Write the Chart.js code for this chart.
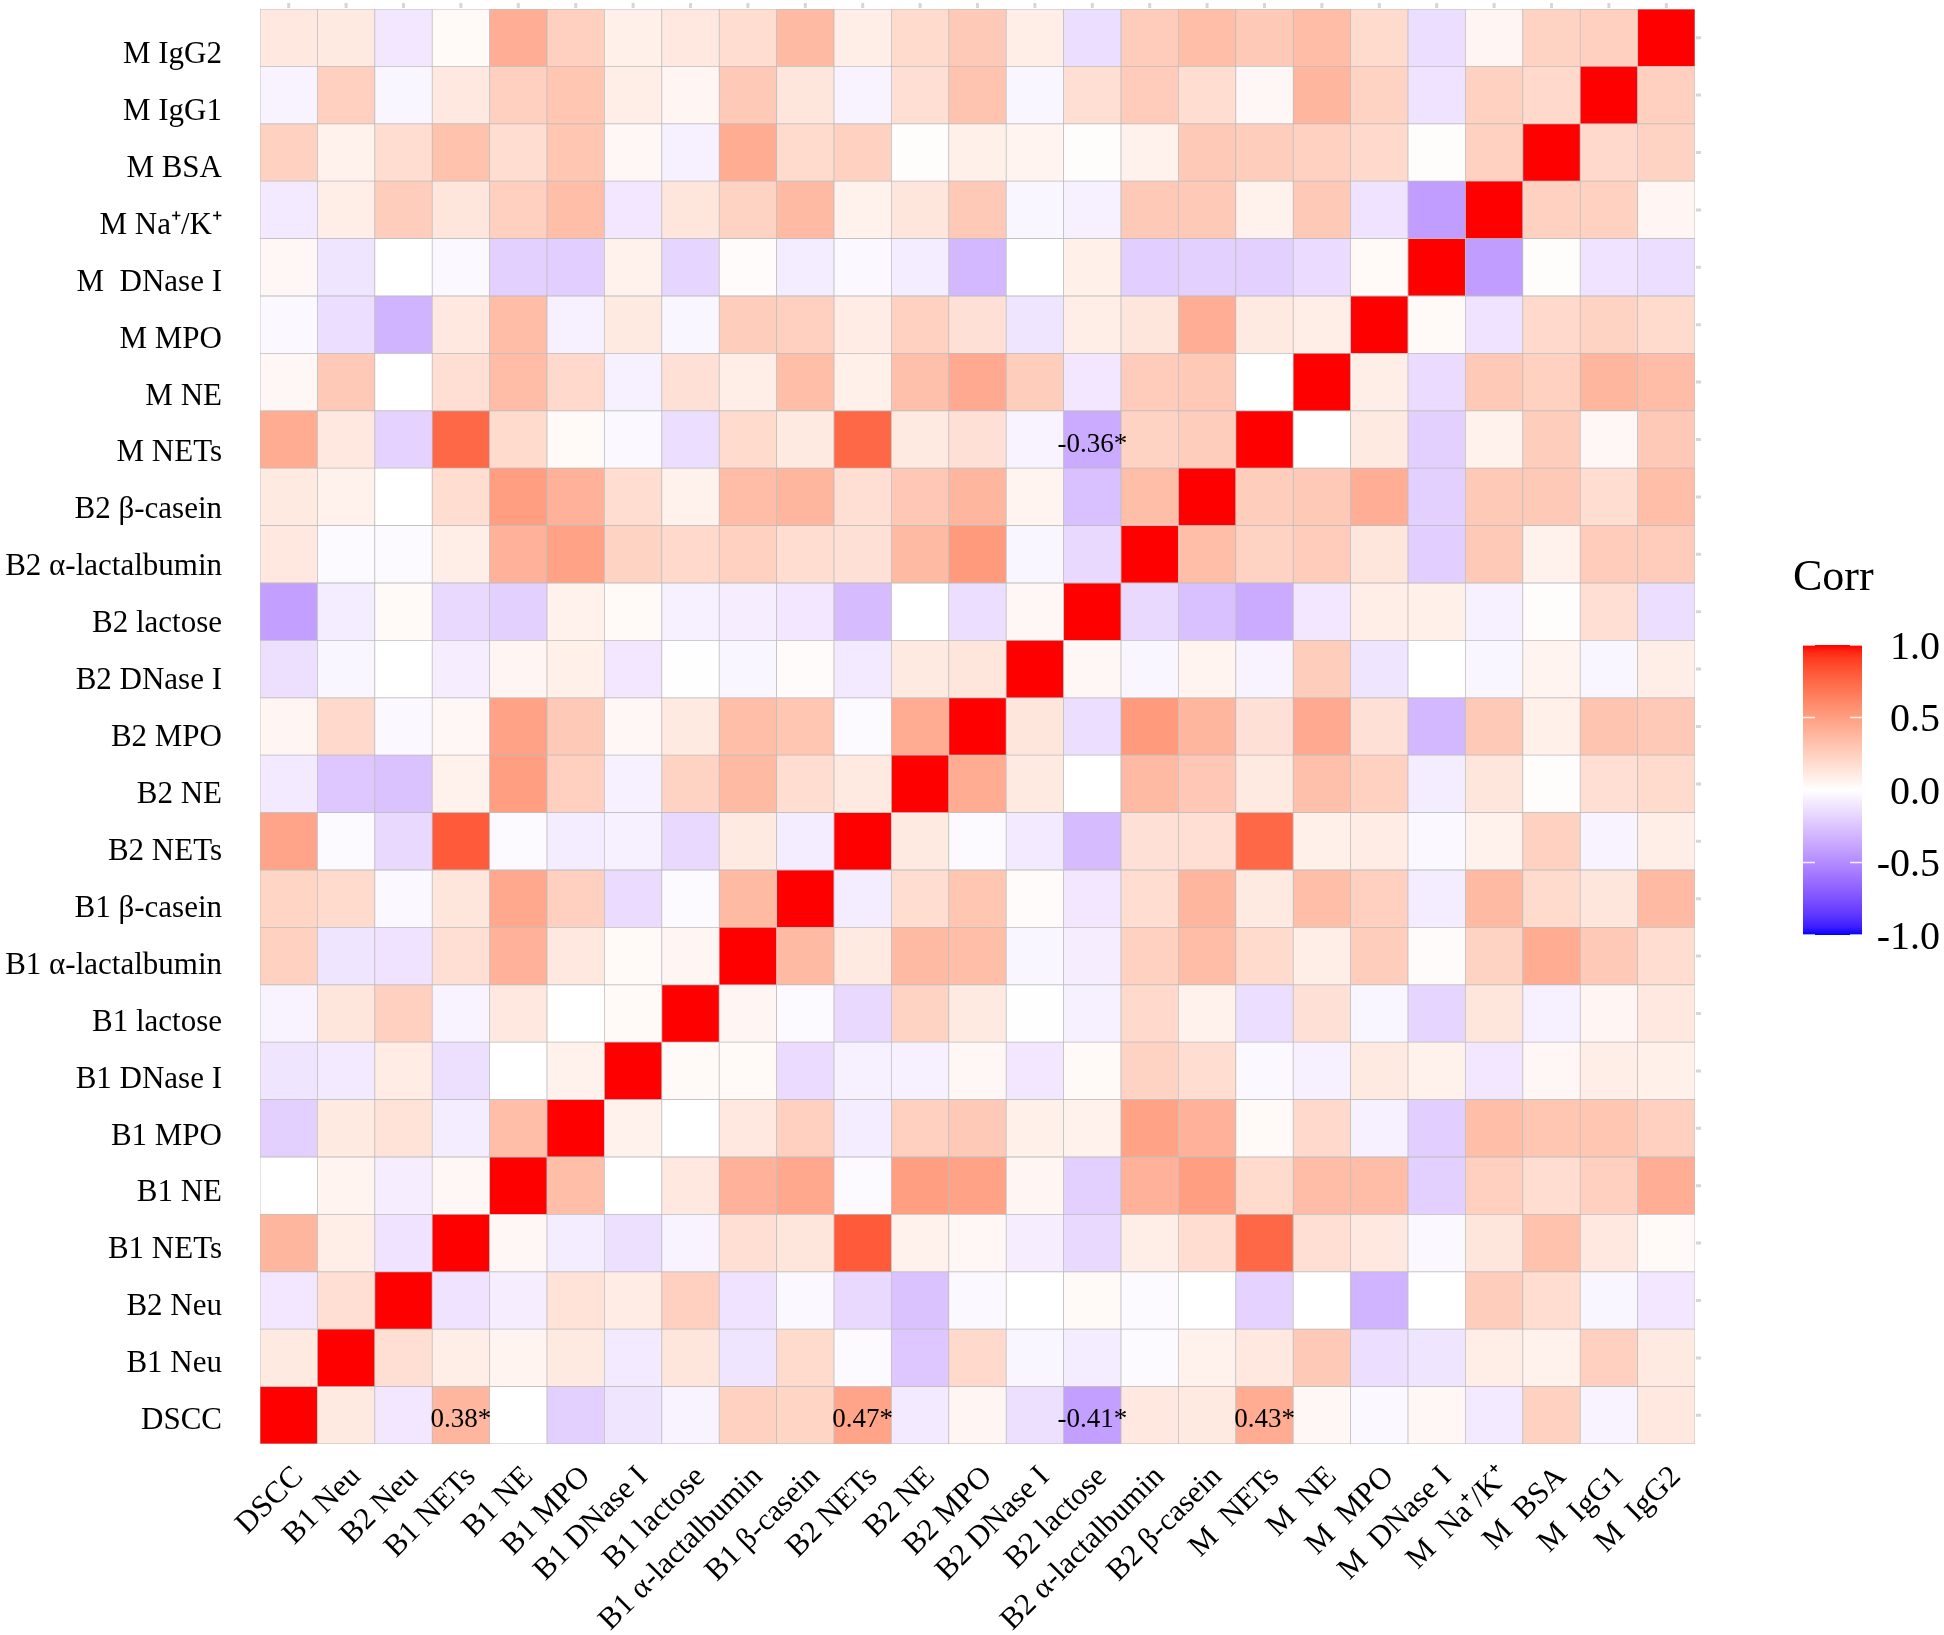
<!DOCTYPE html>
<html>
<head>
<meta charset="utf-8">
<script src="https://cdn.jsdelivr.net/npm/chart.js@4.4.1/dist/chart.umd.min.js"></script>
<style>
  html, body { margin: 0; padding: 0; background: #fff; }
  #wrap { width: 1944px; height: 1635px; position: relative; }
</style>
</head>
<body>
<div id="wrap"><canvas id="corrChart"></canvas></div>
<script>
// variable order: bottom row / left column first
const rowLabels = ['DSCC', 'B1 Neu', 'B2 Neu', 'B1 NETs', 'B1 NE', 'B1 MPO', 'B1 DNase I', 'B1 lactose',
  'B1 α-lactalbumin', 'B1 β-casein', 'B2 NETs', 'B2 NE', 'B2 MPO', 'B2 DNase I', 'B2 lactose',
  'B2 α-lactalbumin', 'B2 β-casein', 'M NETs', 'M NE', 'M MPO', 'M  DNase I', 'M Na⁺/K⁺', 'M BSA',
  'M IgG1', 'M IgG2'];
const colLabels = ['DSCC', 'B1 Neu', 'B2 Neu', 'B1 NETs', 'B1 NE', 'B1 MPO', 'B1 DNase I', 'B1 lactose',
  'B1 α-lactalbumin', 'B1 β-casein', 'B2 NETs', 'B2 NE', 'B2 MPO', 'B2 DNase I', 'B2 lactose',
  'B2 α-lactalbumin', 'B2 β-casein', 'M  NETs', 'M  NE', 'M  MPO', 'M  DNase I', 'M  Na⁺/K⁺', 'M  BSA',
  'M  IgG1', 'M  IgG2'];

// lower triangle: lowerTri[i][j] = corr(i, j) for j < i
const lowerTri = [
  [],
  [0.11],
  [-0.10, 0.17],
  [0.38, 0.09, -0.12],
  [0.00, 0.06, -0.07, 0.04],
  [-0.20, 0.11, 0.15, -0.08, 0.34],
  [-0.11, -0.09, 0.10, -0.13, 0.00, 0.07],
  [-0.05, 0.13, 0.25, -0.05, 0.12, 0.00, 0.03],
  [0.24, -0.11, -0.12, 0.17, 0.40, 0.12, 0.03, 0.05],
  [0.22, 0.19, -0.03, 0.13, 0.45, 0.25, -0.15, -0.02, 0.36],
  [0.47, -0.02, -0.16, 0.80, -0.02, -0.08, -0.06, -0.16, 0.11, -0.08],
  [-0.09, -0.24, -0.26, 0.07, 0.50, 0.25, -0.06, 0.23, 0.36, 0.18, 0.11],
  [0.05, 0.20, -0.03, 0.04, 0.48, 0.28, 0.04, 0.11, 0.34, 0.30, -0.02, 0.43],
  [-0.13, -0.04, 0.00, -0.07, 0.05, 0.08, -0.10, -0.01, -0.04, 0.02, -0.09, 0.11, 0.13],
  [-0.41, -0.08, 0.03, -0.16, -0.20, 0.07, 0.03, -0.06, -0.07, -0.10, -0.29, 0.00, -0.14, 0.04],
  [0.12, -0.02, -0.02, 0.09, 0.40, 0.48, 0.23, 0.20, 0.24, 0.18, 0.16, 0.36, 0.52, -0.04, -0.16],
  [0.11, 0.07, 0.00, 0.18, 0.50, 0.40, 0.18, 0.07, 0.35, 0.38, 0.17, 0.29, 0.38, 0.06, -0.27, 0.34],
  [0.43, 0.12, -0.19, 0.75, 0.19, 0.03, -0.03, -0.14, 0.19, 0.11, 0.75, 0.11, 0.16, -0.05, -0.36, 0.23, 0.26],
  [0.04, 0.28, 0.00, 0.17, 0.35, 0.20, -0.06, 0.16, 0.09, 0.34, 0.08, 0.33, 0.44, 0.26, -0.10, 0.27, 0.28, 0.00],
  [-0.03, -0.14, -0.32, 0.12, 0.35, -0.06, 0.11, -0.04, 0.26, 0.25, 0.10, 0.24, 0.16, -0.11, 0.09, 0.13, 0.42, 0.11, 0.09],
  [0.04, -0.11, 0.00, -0.03, -0.20, -0.21, 0.07, -0.18, 0.02, -0.08, -0.03, -0.08, -0.31, 0.00, 0.08, -0.21, -0.20, -0.20, -0.15, 0.03],
  [-0.09, 0.09, 0.26, 0.13, 0.25, 0.34, -0.10, 0.13, 0.23, 0.36, 0.07, 0.13, 0.28, -0.04, -0.06, 0.28, 0.28, 0.07, 0.28, -0.12, -0.42],
  [0.24, 0.07, 0.18, 0.32, 0.18, 0.30, 0.04, -0.06, 0.43, 0.19, 0.24, 0.01, 0.08, 0.06, 0.01, 0.07, 0.28, 0.26, 0.24, 0.20, 0.01, 0.24],
  [-0.05, 0.25, -0.04, 0.12, 0.25, 0.30, 0.09, 0.05, 0.28, 0.13, -0.05, 0.17, 0.31, -0.04, 0.17, 0.27, 0.18, 0.04, 0.38, 0.23, -0.12, 0.24, 0.20],
  [0.12, 0.11, -0.10, 0.03, 0.42, 0.25, 0.08, 0.12, 0.18, 0.36, 0.09, 0.19, 0.28, 0.09, -0.14, 0.27, 0.34, 0.28, 0.35, 0.19, -0.14, 0.05, 0.23, 0.25]
];

// cells printed with their value (row index, column index)
const sigRow = [0, 0, 0, 0, 17];
const sigCol = [3, 10, 14, 17, 14];

const legendTicks = [1.0, 0.5, 0.0, -0.5, -1.0];

const n = rowLabels.length;
const corr = rowLabels.map((_, i) => rowLabels.map((_, j) =>
  i === j ? 1 : (j < i ? lowerTri[i][j] : lowerTri[j][i])));

// blue - white - red, interpolated in CIELAB like ggplot's gradient2
function toLinear(c) { c /= 255; return c <= 0.04045 ? c / 12.92 : Math.pow((c + 0.055) / 1.055, 2.4); }
function toSrgb(c) {
  c = Math.min(1, Math.max(0, c));
  return Math.round(255 * (c <= 0.0031308 ? 12.92 * c : 1.055 * Math.pow(c, 1 / 2.4) - 0.055));
}
function rgbToLab(rgb) {
  const [r, g, b] = rgb.map(toLinear);
  const X = (0.4124 * r + 0.3576 * g + 0.1805 * b) / 0.95047;
  const Y = 0.2126 * r + 0.7152 * g + 0.0722 * b;
  const Z = (0.0193 * r + 0.1192 * g + 0.9505 * b) / 1.08883;
  const f = t => t > 0.008856 ? Math.cbrt(t) : 7.787 * t + 16 / 116;
  const fx = f(X), fy = f(Y), fz = f(Z);
  return [116 * fy - 16, 500 * (fx - fy), 200 * (fy - fz)];
}
function labToCss([L, a, b]) {
  const fy = (L + 16) / 116, fx = fy + a / 500, fz = fy - b / 200;
  const inv = t => t * t * t > 0.008856 ? t * t * t : (t - 16 / 116) / 7.787;
  const X = inv(fx) * 0.95047, Y = inv(fy), Z = inv(fz) * 1.08883;
  const r = 3.2406 * X - 1.5372 * Y - 0.4986 * Z;
  const g = -0.9689 * X + 1.8758 * Y + 0.0415 * Z;
  const bl = 0.0557 * X - 0.2040 * Y + 1.0570 * Z;
  return `rgb(${toSrgb(r)},${toSrgb(g)},${toSrgb(bl)})`;
}
const labLow = rgbToLab([0, 0, 255]), labMid = rgbToLab([255, 255, 255]), labHigh = rgbToLab([255, 0, 0]);
function corrColor(v) {
  const end = v >= 0 ? labHigh : labLow, t = Math.min(1, Math.abs(v));
  return labToCss(labMid.map((m, k) => m + (end[k] - m) * t));
}

const serif = '"Liberation Serif", "Times New Roman", serif';

const datasets = corr.map((row, i) => ({
  label: rowLabels[i],
  data: row.map(() => 1),
  backgroundColor: row.map(corrColor),
  borderColor: '#bdbdbd',
  borderWidth: 0.75,
  borderSkipped: false,
  barPercentage: 1,
  categoryPercentage: 1
}));

const cellLabels = {
  id: 'cellLabels',
  afterDatasetsDraw(chart) {
    const { ctx, scales: { x, y } } = chart;
    ctx.save();
    ctx.font = '27px ' + serif;
    ctx.fillStyle = '#000';
    ctx.textAlign = 'center';
    ctx.textBaseline = 'middle';
    sigRow.forEach((r, k) => {
      const c = sigCol[k];
      ctx.fillText(corr[r][c].toFixed(2) + '*', x.getPixelForValue(c), y.getPixelForValue(r + 0.5) + 5);
    });
    ctx.restore();
  }
};

// faint tick marks on the top and right edges of the panel
const edgeTicks = {
  id: 'edgeTicks',
  afterDraw(chart) {
    const { ctx, chartArea: a, scales: { x, y } } = chart;
    ctx.save();
    ctx.strokeStyle = '#d6d6d6';
    ctx.lineWidth = 3;
    ctx.beginPath();
    for (let i = 0; i < n; i++) {
      const px = x.getPixelForValue(i), py = y.getPixelForValue(i + 0.5);
      ctx.moveTo(px, a.top - 6); ctx.lineTo(px, a.top - 1);
      ctx.moveTo(a.right + 1, py); ctx.lineTo(a.right + 6, py);
    }
    ctx.stroke();
    ctx.restore();
  }
};

const corrLegend = {
  id: 'corrLegend',
  afterDraw(chart) {
    const ctx = chart.ctx;
    const left = chart.chartArea.right + 108, w = 59, top = 645, h = 290;
    ctx.save();
    const grad = ctx.createLinearGradient(0, top, 0, top + h);
    for (let k = 0; k <= 40; k++) grad.addColorStop(k / 40, corrColor(1 - k / 20));
    ctx.fillStyle = grad;
    ctx.fillRect(left, top, w, h);
    ctx.strokeStyle = 'rgba(255,255,255,0.85)';
    ctx.lineWidth = 1.5;
    ctx.fillStyle = '#000';
    ctx.font = '40px ' + serif;
    ctx.textAlign = 'right';
    ctx.textBaseline = 'middle';
    legendTicks.forEach(v => {
      const yy = top + (1 - v) / 2 * h;
      ctx.beginPath();
      ctx.moveTo(left, yy); ctx.lineTo(left + 12, yy);
      ctx.moveTo(left + w - 12, yy); ctx.lineTo(left + w, yy);
      ctx.stroke();
      ctx.fillText(v.toFixed(1), 1940, yy + 3);
    });
    ctx.textAlign = 'left';
    ctx.font = '44px ' + serif;
    ctx.fillText('Corr', left - 10, 578);
    ctx.restore();
  }
};

function noScalePadding(s) {
  s.paddingTop = 0; s.paddingBottom = 0; s.paddingLeft = 0; s.paddingRight = 0;
}

new Chart(document.getElementById('corrChart'), {
  type: 'bar',
  data: { labels: colLabels, datasets },
  options: {
    responsive: true,
    maintainAspectRatio: false,
    animation: false,
    layout: { padding: { top: 9, right: 249, left: 0, bottom: 0 } },
    plugins: { legend: { display: false }, tooltip: { enabled: false } },
    scales: {
      x: {
        stacked: true,
        offset: true,
        grid: { display: false, drawTicks: false },
        border: { display: false },
        ticks: { autoSkip: false, minRotation: 45, maxRotation: 45, color: '#000', font: { family: serif, size: 31 },
          padding: 15, labelOffset: 10 },
        afterFit(s) { s.height = 191; noScalePadding(s); }
      },
      y: { stacked: true, display: false, min: 0, max: n },
      // row names sit a little low in the original and drift slightly; a linear axis reproduces that spacing
      yl: {
        type: 'linear',
        position: 'left',
        min: -0.404,
        max: 24.806,
        afterBuildTicks(s) { s.ticks = rowLabels.map((_, i) => ({ value: i })); },
        grid: { display: false, drawTicks: false },
        border: { display: false },
        ticks: { color: '#000', font: { family: serif, size: 31 }, padding: 38, callback: v => rowLabels[v] },
        afterFit(s) { s.width = 260; noScalePadding(s); }
      }
    }
  },
  plugins: [cellLabels, edgeTicks, corrLegend]
});
</script>
</body>
</html>
